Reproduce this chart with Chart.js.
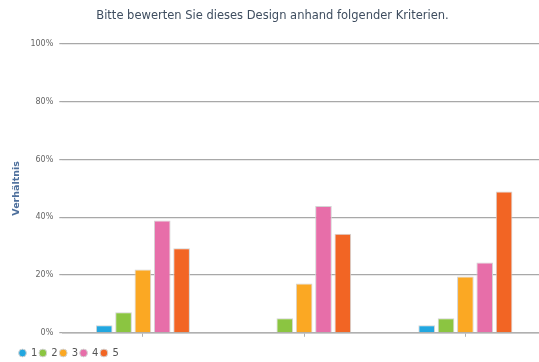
<!DOCTYPE html>
<html>
<head>
<meta charset="utf-8">
<script src="https://cdn.jsdelivr.net/npm/chart.js@4/dist/chart.umd.min.js"></script>
<style>
  html, body { margin: 0; padding: 0; background: #fff; overflow: hidden; }
  #wrap { position: relative; width: 546px; height: 362px; }
  #title {
    position: absolute; left: 0; top: 8px; width: 545px;
    text-align: center; font: 11.5px/14px "DejaVu Sans", sans-serif;
    color: #3e4d5f; white-space: nowrap;
  }
</style>
</head>
<body>
<div id="wrap">
  <div id="title">Bitte bewerten Sie dieses Design anhand folgender Kriterien.</div>
  <canvas id="c"></canvas>
</div>
<script>
// Survey rating distribution per criterion (share of answers, %)
const categories = ['', '', ''];
const ratingLabels = ['1', '2', '3', '4', '5'];
const rating1 = [2.6, 0, 2.6];
const rating2 = [7.1, 5.0, 5.0];
const rating3 = [21.9, 17.1, 19.5];
const rating4 = [38.9, 43.9, 24.3];
const rating5 = [29.3, 34.3, 48.9];
const yTicks = [0, 20, 40, 60, 80, 100];

const colors = ['#22a7e0', '#8bc541', '#fba823', '#e76ea9', '#f26524'];
const series = [rating1, rating2, rating3, rating4, rating5];

Chart.defaults.font.family = '"DejaVu Sans", sans-serif';

// Indent the bottom legend a little from the left edge
const legendIndent = {
  id: 'legendIndent',
  afterLayout(chart) {
    if (chart.legend) chart.legend.left += 6;
  }
};

new Chart(document.getElementById('c'), {
  type: 'bar',
  data: {
    labels: categories,
    datasets: series.map((vals, i) => ({
      label: ratingLabels[i],
      data: vals,
      backgroundColor: colors[i],
      borderColor: '#d4d4d4',
      borderWidth: 1,
      categoryPercentage: 0.6,
      barPercentage: 0.86
    }))
  },
  plugins: [legendIndent],
  options: {
    responsive: true,
    maintainAspectRatio: false,
    animation: false,
    layout: { padding: { left: 11, right: 0, top: 44, bottom: -6 } },
    plugins: {
      legend: {
        position: 'bottom',
        align: 'start',
        labels: {
          usePointStyle: true,
          pointStyle: 'circle',
          boxWidth: 7,
          boxHeight: 5.5,
          padding: 2,
          color: '#555',
          font: { size: 10 }
        }
      },
      tooltip: { enabled: false }
    },
    scales: {
      x: {
        grid: {
          display: true,
          offset: false,
          drawOnChartArea: false,
          drawTicks: true,
          tickLength: 4,
          tickColor: '#b0b0b0'
        },
        border: { color: '#b0b0b0', width: 1.5 },
        ticks: { padding: 4, font: { size: 1 } }
      },
      y: {
        min: 0,
        max: 100,
        afterBuildTicks: axis => { axis.ticks = yTicks.map(v => ({ value: v })); },
        grid: { color: '#a8a8a8', lineWidth: 1.2, drawTicks: true, tickLength: 3 },
        border: { display: false },
        ticks: {
          color: '#666',
          font: { size: 8 },
          padding: 6,
          callback: v => v + '%'
        },
        title: {
          display: true,
          text: 'Verhältnis',
          color: '#4d6f9c',
          font: { size: 9.5, weight: 'bold' },
          padding: { top: 0, bottom: 2 }
        }
      }
    }
  }
});
</script>
</body>
</html>
